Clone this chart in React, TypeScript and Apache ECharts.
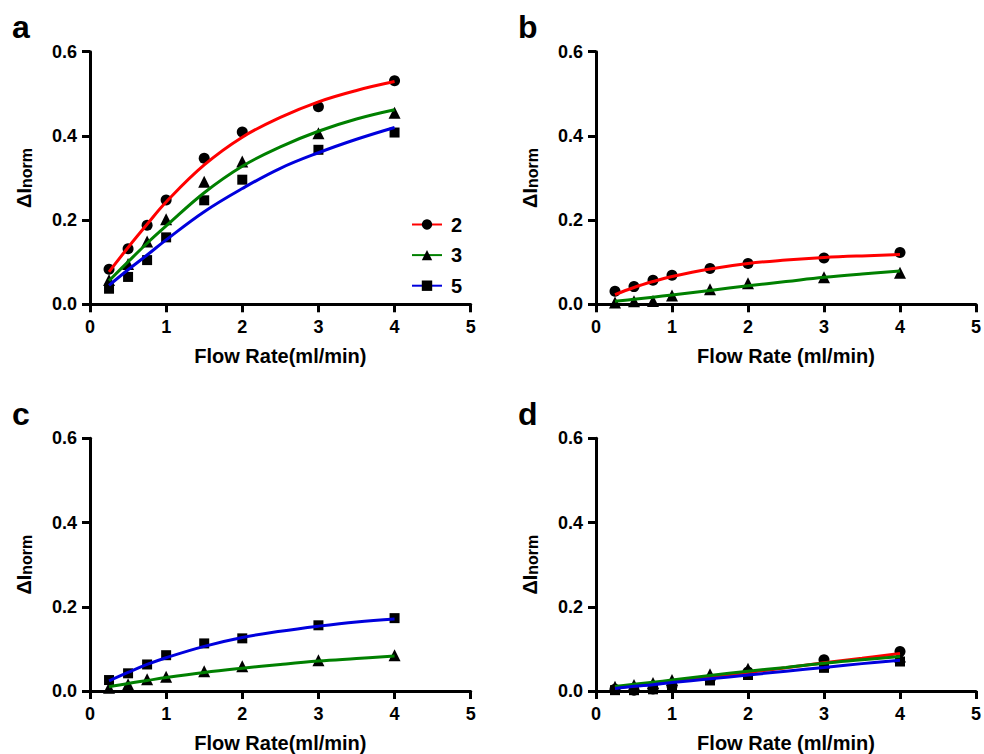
import { useEffect, useRef } from "react";
import * as echarts from "echarts";

// ---------- data ----------
const flowRates = [0.25, 0.5, 0.75, 1, 1.5, 2, 3, 4];
const fitRates = [0.25, 0.5, 0.75, 1, 1.5, 2, 2.5, 3, 3.5, 4];

const xTicks = [0, 1, 2, 3, 4, 5];
const yTicks = [0, 0.2, 0.4, 0.6];

const legendNames = ["2", "3", "5"];

// panel a
const aPoints2 = [0.083, 0.132, 0.188, 0.248, 0.347, 0.409, 0.469, 0.531];
const aPoints3 = [0.058, 0.096, 0.149, 0.202, 0.291, 0.339, 0.406, 0.455];
const aPoints5 = [0.037, 0.065, 0.105, 0.159, 0.247, 0.296, 0.367, 0.408];
const aFit2 = [0.077, 0.135, 0.19, 0.243, 0.331, 0.397, 0.444, 0.481, 0.508, 0.529];
const aFit3 = [0.056, 0.101, 0.145, 0.186, 0.265, 0.328, 0.374, 0.411, 0.44, 0.462];
const aFit5 = [0.045, 0.082, 0.117, 0.153, 0.22, 0.275, 0.323, 0.36, 0.392, 0.42];

// panel b
const bPoints2 = [0.031, 0.042, 0.057, 0.069, 0.085, 0.097, 0.11, 0.123];
const bPoints3 = [0.004, 0.007, 0.008, 0.021, 0.036, 0.05, 0.064, 0.075];
const bFit2 = [0.023, 0.04, 0.054, 0.066, 0.084, 0.097, 0.105, 0.111, 0.115, 0.118];
const bFit3 = [0.007, 0.012, 0.017, 0.022, 0.033, 0.044, 0.054, 0.064, 0.072, 0.079];

// panel c
const cPoints5 = [0.026, 0.042, 0.063, 0.085, 0.113, 0.125, 0.156, 0.173];
const cPoints3 = [0.008, 0.016, 0.028, 0.034, 0.047, 0.059, 0.073, 0.085];
const cFit5 = [0.024, 0.044, 0.063, 0.079, 0.106, 0.127, 0.142, 0.154, 0.164, 0.171];
const cFit3 = [0.01, 0.018, 0.025, 0.032, 0.044, 0.054, 0.063, 0.071, 0.077, 0.083];

// panel d
const dPoints2 = [0.004, 0.002, 0.005, 0.012, 0.028, 0.045, 0.074, 0.094];
const dPoints3 = [0.01, 0.014, 0.019, 0.026, 0.04, 0.053, 0.067, 0.082];
const dPoints5 = [0.002, 0.002, 0.004, 0.008, 0.025, 0.038, 0.055, 0.07];
const dFit2 = [0.007, 0.012, 0.017, 0.022, 0.033, 0.044, 0.055, 0.067, 0.078, 0.089];
const dFit3 = [0.011, 0.016, 0.021, 0.026, 0.037, 0.047, 0.056, 0.066, 0.074, 0.082];
const dFit5 = [0.006, 0.011, 0.015, 0.02, 0.029, 0.038, 0.047, 0.056, 0.065, 0.073];

const panelLetters = ["a", "b", "c", "d"];
const xTitles = ["Flow Rate(ml/min)", "Flow Rate (ml/min)", "Flow Rate(ml/min)", "Flow Rate (ml/min)"];

// ---------- styling ----------
const FONT = "'Liberation Sans', Arial, Helvetica, sans-serif";
const RED = "#ff0000";
const GREEN = "#008000";
const BLUE = "#0000dd";

const SYMBOLS: Record<string, { symbol: string; size: number }> = {
  "2": { symbol: "circle", size: 11 },
  "3": { symbol: "triangle", size: 12 },
  "5": { symbol: "rect", size: 10 },
};
const COLORS: Record<string, string> = { "2": RED, "3": GREEN, "5": BLUE };

const grids = [
  { left: 90, top: 51.7, width: 380.7, height: 252.6 },
  { left: 596, top: 51.7, width: 380.7, height: 252.6 },
  { left: 90, top: 438.3, width: 380.7, height: 253.4 },
  { left: 596, top: 438.3, width: 380.7, height: 253.4 },
];
const letterPos = [
  { x: 12, y: 11 },
  { x: 518, y: 11 },
  { x: 12, y: 398 },
  { x: 518, y: 398 },
];

function pairs(xs: number[], ys: number[]) {
  return xs.map((x, i) => [x, ys[i]]);
}

function pointSeries(panel: number, key: string, ys: number[]) {
  return {
    type: "scatter",
    name: `p${panel}-${key}`,
    xAxisIndex: panel,
    yAxisIndex: panel,
    data: pairs(flowRates, ys),
    symbol: SYMBOLS[key].symbol,
    symbolSize: SYMBOLS[key].size,
    itemStyle: { color: "#000", opacity: 1 },
    z: 2,
    silent: true,
  };
}

function fitSeries(panel: number, key: string, ys: number[]) {
  return {
    type: "line",
    name: panel === 0 ? key : `f${panel}-${key}`,
    xAxisIndex: panel,
    yAxisIndex: panel,
    data: pairs(fitRates, ys),
    smooth: 0.4,
    showSymbol: false,
    symbol: SYMBOLS[key].symbol,
    symbolSize: SYMBOLS[key].size,
    itemStyle: { color: "#000", opacity: 1 },
    lineStyle: { color: COLORS[key], width: 3 },
    z: 3,
    silent: true,
  };
}

export default function App() {
  const ref = useRef<HTMLDivElement>(null);

  useEffect(() => {
    if (!ref.current) return;
    const chart = echarts.init(ref.current, null, { renderer: "svg" });

    const axisCommon = {
      axisLine: { show: true, onZero: false, lineStyle: { color: "#000", width: 3 } },
      axisTick: { show: true, length: 8, lineStyle: { color: "#000", width: 3 } },
      splitLine: { show: false },
    };

    const xAxes = grids.map((_, i) => ({
      ...axisCommon,
      type: "value",
      gridIndex: i,
      min: xTicks[0],
      max: xTicks[xTicks.length - 1],
      interval: 1,
      axisLabel: {
        color: "#000",
        fontSize: 18,
        fontWeight: "bold",
        fontFamily: FONT,
        margin: 14,
      },
      name: xTitles[i],
      nameLocation: "middle",
      nameGap: 42,
      nameTextStyle: { color: "#000", fontSize: 20, fontWeight: "bold", fontFamily: FONT },
    }));

    const yAxes = grids.map((_, i) => ({
      ...axisCommon,
      type: "value",
      gridIndex: i,
      min: yTicks[0],
      max: yTicks[yTicks.length - 1],
      interval: 0.2,
      axisLabel: {
        color: "#000",
        fontSize: 18,
        fontWeight: "bold",
        fontFamily: FONT,
        margin: 13,
        formatter: (v: number) => v.toFixed(1),
      },
      name: "{a|ΔI}{b|norm}",
      nameLocation: "middle",
      nameGap: 56,
      nameTextStyle: {
        color: "#000",
        rich: {
          a: { fontSize: 20, fontWeight: "bold", fontFamily: FONT, lineHeight: 20, color: "#000" },
          b: {
            fontSize: 16,
            fontWeight: "bold",
            fontFamily: FONT,
            lineHeight: 12,
            verticalAlign: "bottom",
            color: "#000",
          },
        },
      },
    }));

    const series = [
      pointSeries(0, "2", aPoints2),
      pointSeries(0, "3", aPoints3),
      pointSeries(0, "5", aPoints5),
      fitSeries(0, "2", aFit2),
      fitSeries(0, "3", aFit3),
      fitSeries(0, "5", aFit5),

      pointSeries(1, "2", bPoints2),
      pointSeries(1, "3", bPoints3),
      fitSeries(1, "2", bFit2),
      fitSeries(1, "3", bFit3),

      pointSeries(2, "5", cPoints5),
      pointSeries(2, "3", cPoints3),
      fitSeries(2, "5", cFit5),
      fitSeries(2, "3", cFit3),

      pointSeries(3, "2", dPoints2),
      pointSeries(3, "3", dPoints3),
      pointSeries(3, "5", dPoints5),
      fitSeries(3, "2", dFit2),
      fitSeries(3, "3", dFit3),
      fitSeries(3, "5", dFit5),
    ];

    chart.setOption({
      animation: false,
      backgroundColor: "#fff",
      grid: grids.map((g) => ({ ...g, containLabel: false })),
      xAxis: xAxes,
      yAxis: yAxes,
      legend: {
        data: legendNames,
        orient: "vertical",
        left: 406,
        top: 209.5,
        itemWidth: 30,
        itemHeight: 13,
        itemGap: 10.6,
        selectedMode: false,
        textStyle: {
          color: "#000",
          fontSize: 20,
          fontWeight: "bold",
          fontFamily: FONT,
          padding: [0, 0, 0, 4],
        },
      },
      graphic: panelLetters.map((t, i) => ({
        type: "text",
        left: letterPos[i].x,
        top: letterPos[i].y,
        style: {
          text: t,
          fontSize: 32,
          fontWeight: "bold",
          fontFamily: FONT,
          fill: "#000",
        },
      })),
      series,
    });

    return () => chart.dispose();
  }, []);

  return (
    <div
      ref={ref}
      style={{ position: "absolute", left: 0, top: 0, width: 984, height: 754, background: "#fff" }}
    />
  );
}
